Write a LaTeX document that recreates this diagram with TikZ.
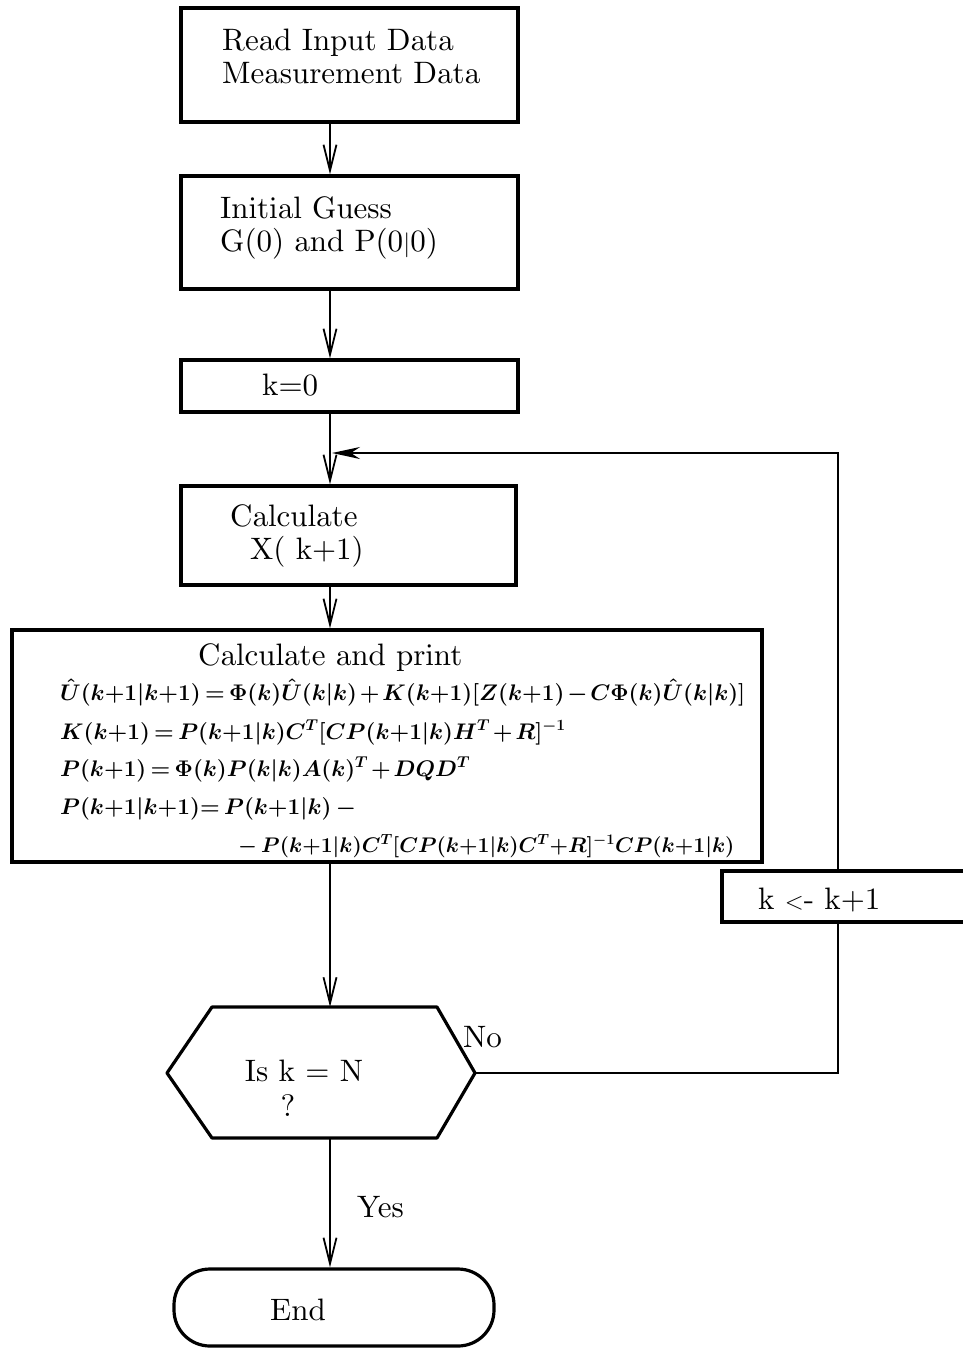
\documentclass[tikz,border=0pt]{standalone}
\usepackage{amsmath}
\usepackage{graphicx}
\usetikzlibrary{arrows.meta}
\font\bigrm=cmr10 at 31pt
\newcommand{\pl}{{+}}
\newcommand{\tightm}{\medmuskip=2mu\relax\thickmuskip=3mu\relax}
\newcommand{\fm}[2]{\scalebox{#1}{$\tightm #2$}}
\begin{document}
\begin{tikzpicture}[x=1pt,y=-1pt,
  box/.style={draw,line width=3.2pt,inner sep=0pt},
  lbl/.style={inner sep=0pt,anchor=west,align=left,font=\fontsize{31}{33}\selectfont\bigrm},
  mth/.style={inner sep=0pt,anchor=base west,font=\fontsize{24.2}{27}\selectfont\boldmath},
  flow/.style={line width=1.8pt,-{Straight Barb[length=26pt,width=13pt,line width=1.8pt]}},
  fline/.style={line width=2.2pt}]
\useasboundingbox (0,0) rectangle (962,1349);
% boxes
\node[box,minimum width=337pt,minimum height=114pt] (b1) at (349.5,65) {};
\node[box,minimum width=337pt,minimum height=113pt] (b2) at (349.5,232.5) {};
\node[box,minimum width=337pt,minimum height=52pt] (b3) at (349.5,386) {};
\node[box,minimum width=335pt,minimum height=99pt] (b4) at (348.5,535.5) {};
\node[box,minimum width=750pt,minimum height=232pt] (b5) at (387,746) {};
% texts
\node[lbl] (t1) at (222,56) {Read Input Data\\Measurement Data};
\node[lbl] (t2) at (220,228) {Initial Guess\\G(0) and P(0$|$0)};
\node[lbl] (t3) at (262,385) {k=0};
\node[lbl] (t4) at (230,536) {Calculate\\\hspace*{20pt}X( k+1)};
\node[lbl] (t5) at (198,658) {Calculate and print};
\node[mth] (m1) at (60,700) {\fm{0.907}{\hat U(k\pl1|k\pl1)=\Phi(k)\hat U(k|k)+K(k\pl1)[Z(k\pl1)-C\Phi(k)\hat U(k|k)]}};
\node[mth] (m2) at (60,739) {\fm{0.907}{K(k\pl1)=P(k\pl1|k)C^T[CP(k\pl1|k)H^T+R]^{-1}}};
\node[mth] (m3) at (60,776) {\fm{0.907}{P(k\pl1)=\Phi(k)P(k|k)A(k)^T+DQD^T}};
\node[mth] (m4) at (60,814) {\fm{0.907}{P(k\pl1|k\pl1){=}\;P(k\pl1|k)\;-}};
\node[mth] (m5) at (238,852) {\fm{0.85}{-\;P(k\pl1|k)C^T[CP(k\pl1|k)C^T{+}R]^{-1}CP(k\pl1|k)}};
% hexagon
\coordinate (hT) at (330,1007);
\coordinate (hB) at (330,1138);
\coordinate (hR) at (475,1073);
\coordinate (hL) at (167,1073);
\draw[line width=3.2pt,line join=round] (212,1007) -- (437,1007) -- (hR) -- (437,1138) -- (212,1138) -- (hL) -- cycle;
\node[lbl,anchor=center] (t6) at (304,1071) {Is k = N};
\node[lbl,anchor=center] (t7) at (288,1106) {?};
% end
\node[box,rounded corners=36pt,minimum width=320pt,minimum height=77pt] (end) at (334,1307.5) {};
\node[lbl,anchor=center] (t8) at (298,1310) {End};
% k box
\coordinate (kT) at (838,871);
\coordinate (kB) at (838,922);
\draw[line width=3.2pt] (970,871) -- (722,871) -- (722,922) -- (970,922);
\node[lbl] (t9) at (758,900) {k $<$- k+1};
% labels
\node[lbl] (no) at (463,1037) {No};
\node[lbl] (yes) at (357,1207) {Yes};
% flow
\draw[flow] (b1.south -| 330,0) -- (b2.north -| 330,0);
\draw[flow] (b2.south -| 330,0) -- (b3.north -| 330,0);
\draw[flow] (b3.south -| 330,0) -- (b4.north -| 330,0);
\draw[flow] (b4.south -| 330,0) -- (b5.north -| 330,0);
\draw[flow] (b5.south -| 330,0) -- (hT);
\draw[flow] (hB) -- (end.north -| 330,0);
% feedback
\coordinate (lp) at (332,453);
\draw[fline] (hR) -| (kB);
\draw[fline,-{Stealth[length=28pt,width=12pt]}] (kT) |- (lp);
\end{tikzpicture}
\end{document}
